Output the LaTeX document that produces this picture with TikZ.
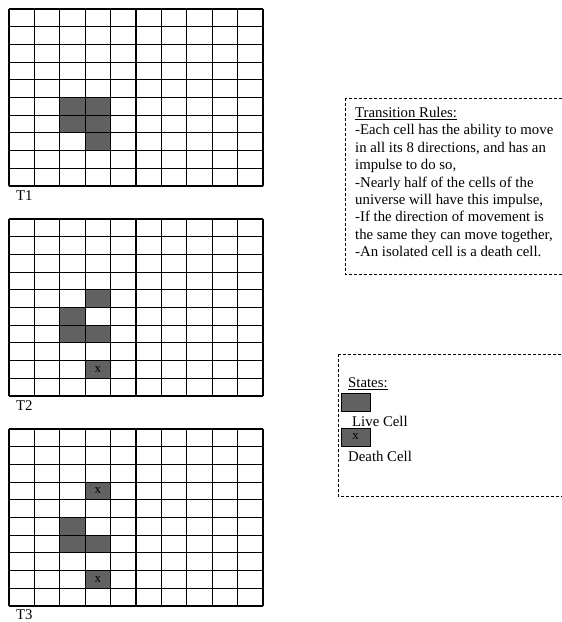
\documentclass[tikz,border=0pt]{standalone}
\usepackage{fontspec}
\setmainfont{Liberation Serif}
\usetikzlibrary{positioning}

\begin{document}
\begin{tikzpicture}[
    x=1pt, y=-1pt,
    gridline/.style={line width=1.1pt},
    live/.style={fill=black!62},
    frame/.style={draw, line width=1pt, dash pattern=on 3pt off 2pt},
    txt/.style={inner sep=0pt, anchor=west, font=\fontsize{14.8}{17.4}\selectfont},
    xmark/.style={inner sep=0pt, font=\fontsize{13}{13}\selectfont}
]
    \useasboundingbox (0,0) rectangle (562,622);
    % Shaded cells
    \foreach \oy/\cells in {9/{2/5,3/5,2/6,3/6,3/7}, 219/{3/4,2/5,2/6,3/6,3/8}, 429/{3/3,2/5,2/6,3/6,3/8}} {
        \foreach \c/\r in \cells
            \fill[live] (9+\c*25.4, \oy+\r*17.7) rectangle +(25.4,17.7);
    }
    % Grids
    \foreach \oy in {9, 219, 429} {
        \foreach \i in {0,...,10} {
            \draw[gridline] (9+\i*25.4, \oy) -- (9+\i*25.4, \oy+177);
            \draw[gridline] (9, \oy+\i*17.7) -- (263, \oy+\i*17.7);
        }
    }
    % Death marks
    \node[xmark] (dead2) at (9+3.5*25.4, 219+8.5*17.7) {x};
    \node[xmark] (dead3a) at (9+3.5*25.4, 429+3.5*17.7) {x};
    \node[xmark] (dead3b) at (9+3.5*25.4, 429+8.5*17.7) {x};
    % Labels
    \node[txt] (t1) at (16,196) {T1};
    \node[txt] (t2) at (16,406) {T2};
    \node[txt] (t3) at (16,614.5) {T3};
    % Transition rules
    \draw[frame] (345,98) rectangle (580,274);
    \node[txt, anchor=north west, align=left] (rules) at (355,107) {%
        \underline{Transition Rules:}\\
        -Each cell has the ability to move\\
        in all its 8 directions, and has an\\
        impulse to do so,\\
        -Nearly half of the cells of the\\
        universe will have this impulse,\\
        -If the direction of movement is\\
        the same they can move together,\\
        -An isolated cell is a death cell.};
    % States
    \draw[frame] (338,354) rectangle (580,496);
    \node[txt] (states) at (348,384) {\underline{States:}};
    \fill[live] (341,393) rectangle (370,411);
    \draw (341,393) rectangle (370,411);
    \node[txt] (livelab) at (352,421) {Live Cell};
    \fill[live] (341,428) rectangle (370,446);
    \draw (341,428) rectangle (370,446);
    \node[xmark] (deadmark) at (355.5,437) {x};
    \node[txt] (deadlab) at (348,456) {Death Cell};
\end{tikzpicture}
\end{document}
